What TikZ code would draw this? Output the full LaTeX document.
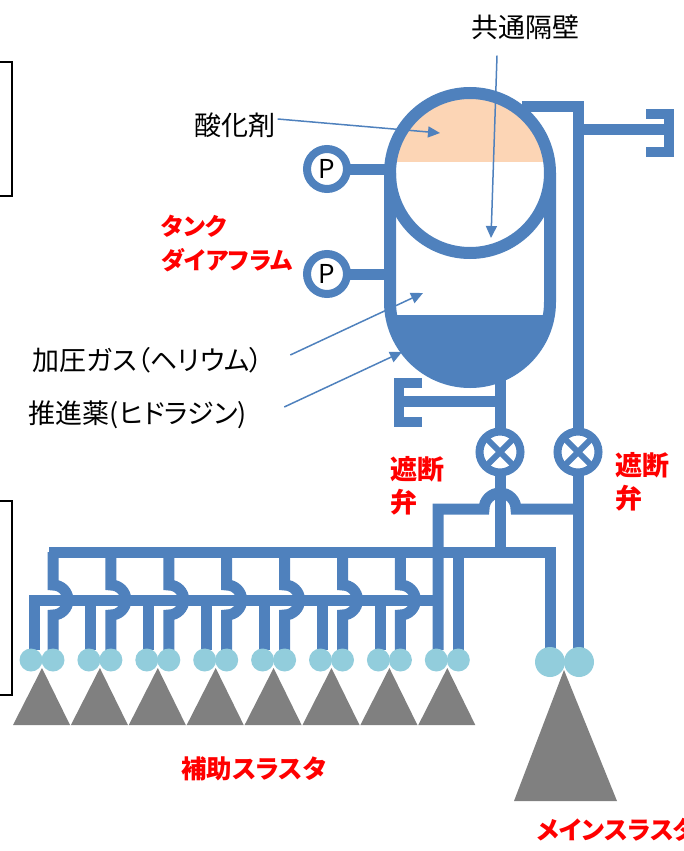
\documentclass[tikz,border=0pt]{standalone}
\usepackage{fontspec}
\setmainfont{Noto Sans CJK JP}[RawFeature={+palt}]
\usetikzlibrary{arrows.meta,calc}

\definecolor{azulcano}{HTML}{4F81BD}
\definecolor{oxid}{HTML}{FCD5B5}
\definecolor{bocal}{HTML}{92CDDC}
\definecolor{cone}{HTML}{808080}

\tikzset{
  cano/.style={line width=11pt, draw=azulcano},
  parede/.style={line width=12pt, draw=azulcano},
  seta/.style={line width=1.5pt, draw=azulcano, -{Triangle[length=12pt,width=11pt]}},
  rotulo/.style={inner sep=2pt, align=left, font=\fontsize{27}{33}\selectfont},
  alerta/.style={rotulo, text=red, font=\bfseries\fontsize{27}{33}\selectfont},
  kana/.style={alerta, font=\bfseries\fontsize{24}{34}\selectfont},
  manometro/.style={draw=azulcano, line width=8pt, circle, fill=white, minimum size=40pt,
    inner sep=0pt, outer sep=0pt, font=\fontsize{26}{26}\selectfont},
  valvula/.style={draw=azulcano, line width=8pt, circle, fill=white, minimum size=41pt,
    inner sep=0pt, outer sep=0pt},
}

\begin{document}
\begin{tikzpicture}[x=1pt, y=1pt, yscale=-1]
    \useasboundingbox (0,0) rectangle (683,851);

    % Molduras cortadas na margem
    \draw[line width=1.5pt] (-5,62) -- (12,62) -- (12,196) -- (-5,196);
    \draw[line width=1.5pt] (-5,501) -- (12,501) -- (12,695) -- (-5,695);

    % Tanque: oxidante e propelente
    \begin{scope}
        \clip (470,173) circle (80);
        \fill[oxid] (380,80) rectangle (560,162);
    \end{scope}
    \begin{scope}
        \clip (470,302) circle (80);
        \fill[azulcano] (380,315) rectangle (560,400);
    \end{scope}
    \draw[parede] (390,173) -- (390,302) arc[start angle=180, end angle=0, radius=80] -- (550,173);
    \draw[parede] (470,173) circle (80);

    % Manometros e valvulas
    \node[manometro] (p1) at (327,169) {P};
    \node[manometro] (p2) at (327,274) {P};
    \draw[cano] (p1.east) -- (390,169);
    \draw[cano] (p2.east) -- (390,274);

    \node[valvula] (v1) at (500,452) {};
    \node[valvula] (v2) at (578,452) {};
    \foreach \v in {v1,v2} {
        \draw[line width=6pt, azulcano] ($(\v)+(45:17)$) -- ($(\v)+(225:17)$);
        \draw[line width=6pt, azulcano] ($(\v)+(135:17)$) -- ($(\v)+(315:17)$);
    }

    % Linhas principais
    \draw[cano] (500,378) -- (v1.north);
    \draw[cano] (v1.south) -- (500,552);
    \draw[cano] (522,106) -- (578,106) -- (v2.north);
    \draw[cano] (v2.south) -- (578,650);
    \draw[cano] (578,129) -- (669,129);
    \draw[line width=10pt, azulcano] (646,114) -- (669,114) -- (669,152) -- (646,152);
    \draw[cano] (399,401) -- (500,401);
    \draw[line width=10pt, azulcano] (422,383) -- (399,383) -- (399,422) -- (422,422);
    \draw[cano] (578,509) -- (516,509) arc[start angle=0, end angle=-180, radius=16] -- (438,509) -- (438,650);

    % Coletores dos propulsores auxiliares
    \draw[cano] (550,650) -- (550,552) -- (48.5,552);
    \draw[cano] (34,650) -- (34,600) -- (438,600);
    \foreach \k in {0,...,6} {
        \pgfmathsetmacro\j{42+57.9*\k}
        \draw[cano] (\j+11,552) -- (\j+11,585) arc[start angle=-90, end angle=90, radius=15] -- (\j+11,650);
    }
    \foreach \k in {1,...,6} {
        \pgfmathsetmacro\j{42+57.9*\k}
        \draw[cano] (\j-9,600) -- (\j-9,650);
    }
    \draw[cano] (458.3,552) -- (458.3,650);

    % Propulsores
    \foreach \k in {0,...,7} {
        \pgfmathsetmacro\j{42+57.9*\k}
        \fill[cone] (\j,668) -- (\j-29,725) -- (\j+28,725) -- cycle;
        \fill[bocal] (\j-11,660) circle (11.5);
        \fill[bocal] (\j+11,660) circle (11.5);
    }
    \fill[cone] (564,670) -- (514,801) -- (617,801) -- cycle;
    \fill[bocal] (550,662) circle (15);
    \fill[bocal] (579,662) circle (15);

    % Rotulos
    \node[rotulo] (comum) at (525,27) {共通隔壁};
    \node[rotulo] (oxi) at (235,125) {酸化剤};
    \node[kana, anchor=north west] (diaf) at (159,213) {タンク\\ダイアフラム};
    \node[rotulo] (gas) at (148,360) {加圧ガス（ヘリウム）};
    \node[rotulo] (prop) at (138,415) {推進薬(ヒドラジン)};
    \node[alerta, anchor=north west] (corte1) at (388,454) {遮断\\弁};
    \node[alerta, anchor=north west] (corte2) at (613,450) {遮断\\弁};
    \node[kana, font=\bfseries\fontsize{25.5}{30}\selectfont, anchor=west] (aux) at (179,769) {補助スラスタ};
    \node[kana, font=\bfseries\fontsize{25}{30}\selectfont, anchor=west] (princ) at (535,830) {メインスラスタ};

    \coordinate (comumT) at (491,238);
    \coordinate (oxiT) at (440,133);
    \coordinate (gasT) at (423,293);
    \coordinate (propT) at (402,352);
    \draw[seta] ($(comum.south)+(-28,14)$) -- (comumT);
    \draw[seta] ($(oxi.east)+(0,-6)$) -- (oxiT);
    \draw[seta] ($(gas.east)+(25,-5)$) -- (gasT);
    \draw[seta] ($(prop.east)+(35,-8)$) -- (propT);
\end{tikzpicture}
\end{document}
